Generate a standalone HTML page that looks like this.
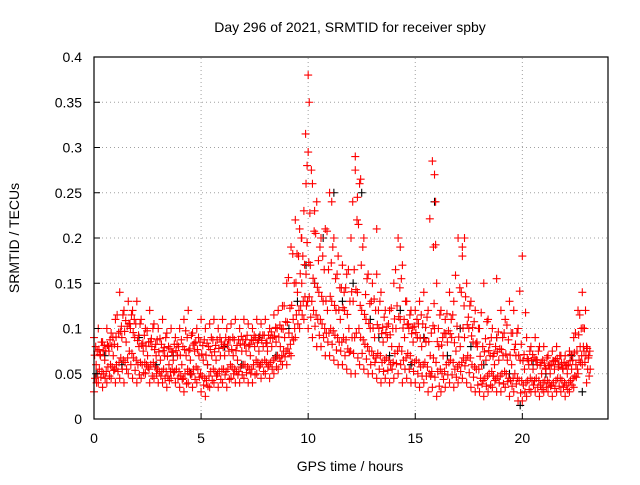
<!DOCTYPE html>
<html><head><meta charset="utf-8"><style>
body{margin:0;background:#fff}
svg text{font-family:"Liberation Sans",sans-serif;font-size:14px;fill:#000}
</style></head><body>
<svg id="chart" width="640" height="480">
<rect width="640" height="480" fill="#fff"/>
<g id="grid"></g><g id="marks"></g><g id="axes"></g>
<text x="350" y="32" text-anchor="middle">Day 296 of 2021, SRMTID for receiver spby</text>
<text x="350" y="471" text-anchor="middle">GPS time / hours</text>
<text transform="translate(19,238) rotate(-90)" text-anchor="middle">SRMTID / TECUs</text>
</svg>
<script>
const hours=[0,0.2,0.4,0.6,0.8,1,1.2,1.4,1.6,1.8,2,2.2,2.4,2.6,2.8,3,3.2,3.4,3.6,3.8,4,4.2,4.4,4.6,4.8,5,5.2,5.4,5.6,5.8,6,6.2,6.4,6.6,6.8,7,7.2,7.4,7.6,7.8,8,8.2,8.4,8.6,8.8,9,9.2,9.4,9.6,9.8,10,10.2,10.4,10.6,10.8,11,11.2,11.4,11.6,11.8,12,12.2,12.4,12.6,12.8,13,13.2,13.4,13.6,13.8,14,14.2,14.4,14.6,14.8,15,15.2,15.4,15.6,15.8,16,16.2,16.4,16.6,16.8,17,17.2,17.4,17.6,17.8,18,18.2,18.4,18.6,18.8,19,19.2,19.4,19.6,19.8,20,20.2,20.4,20.6,20.8,21,21.2,21.4,21.6,21.8,22,22.2,22.4,22.6,22.8,23];
const lowVals=[.03,.04,.035,.04,.045,.04,.045,.04,.05,.045,.04,.045,.05,.04,.045,.04,.04,.035,.045,.04,.035,.03,.04,.035,.04,.03,.025,.035,.04,.035,.04,.035,.045,.04,.04,.045,.04,.04,.05,.045,.05,.045,.05,.055,.06,.06,.07,.09,.1,.11,.1,.09,.08,.08,.07,.07,.065,.06,.06,.055,.05,.05,.06,.055,.05,.05,.045,.04,.045,.04,.045,.05,.04,.045,.04,.04,.035,.04,.03,.035,.025,.03,.035,.04,.035,.04,.045,.04,.035,.03,.03,.025,.03,.035,.03,.03,.035,.025,.03,.02,.02,.025,.03,.03,.025,.03,.03,.025,.03,.03,.025,.03,.035,.05,.06,.04];
const midVals=[.06,.07,.065,.075,.07,.08,.09,.085,.1,.09,.08,.075,.07,.08,.07,.065,.07,.06,.065,.07,.06,.07,.065,.075,.07,.065,.06,.07,.065,.07,.07,.075,.07,.065,.075,.075,.07,.08,.075,.08,.075,.08,.085,.08,.09,.095,.11,.14,.15,.16,.17,.15,.14,.13,.12,.13,.12,.11,.12,.1,.13,.14,.12,.11,.1,.09,.1,.085,.09,.08,.1,.11,.09,.1,.085,.09,.08,.085,.07,.1,.08,.07,.085,.09,.075,.08,.09,.1,.085,.08,.06,.065,.07,.06,.065,.07,.065,.06,.07,.065,.055,.06,.055,.06,.05,.055,.05,.055,.06,.055,.05,.055,.06,.08,.1,.07];
const highVals=[.09,.1,.085,.1,.095,.11,.14,.12,.13,.12,.13,.11,.1,.12,.105,.1,.11,.095,.1,.09,.1,.11,.12,.095,.1,.11,.1,.105,.11,.1,.11,.1,.105,.11,.1,.11,.105,.1,.11,.105,.11,.1,.115,.12,.125,.15,.19,.22,.21,.23,.38,.26,.24,.2,.21,.25,.2,.18,.17,.16,.2,.29,.26,.2,.16,.15,.16,.14,.12,.12,.15,.2,.17,.13,.12,.12,.13,.14,.12,.285,.15,.12,.11,.14,.13,.2,.18,.15,.13,.12,.1,.15,.11,.1,.09,.12,.11,.13,.12,.1,.18,.09,.08,.09,.08,.08,.07,.075,.08,.07,.07,.075,.09,.12,.14,.08];
const extraHours=[10.05,10.0,9.9,9.7,10.3,12.2,12.45,12.3,15.9,15.95,15.85,17.3,17.2,18.8,11.1,14.3,13.2,9.95];
const extraVals=[.35,.295,.26,.2,.23,.275,.265,.245,.27,.24,.19,.2,.19,.155,.24,.19,.21,.28];
const blackHours=[0.1,0.5,1.3,2.1,2.9,3.7,4.5,5.3,6.1,6.9,7.7,8.5,9.1,9.5,9.9,10.3,10.7,11.2,11.6,12.1,12.5,12.9,13.3,13.8,14.3,14.8,15.4,15.9,16.5,17.1,17.6,18.2,18.8,19.4,19.9,20.5,21.1,21.7,22.3,22.8];
const blackVals=[.05,.07,.06,.09,.06,.07,.05,.06,.08,.06,.09,.07,.1,.13,.17,.15,.2,.25,.13,.15,.25,.11,.09,.07,.12,.06,.09,.24,.07,.1,.08,.06,.09,.05,.015,.06,.05,.06,.07,.03];
const yTicks=[0,0.05,0.1,0.15,0.2,0.25,0.3,0.35,0.4];
const yTickLabels=["0","0.05","0.1","0.15","0.2","0.25","0.3","0.35","0.4"];
const xTicks=[0,5,10,15,20];
const xTickLabels=["0","5","10","15","20"];
const X0=94,X1=608,Y0=419,Y1=57;
const xs=h=>X0+h*(X1-X0)/24;
const ys=v=>Y0-v*(Y0-Y1)/0.4;
const NS="http://www.w3.org/2000/svg";
const grid=document.getElementById('grid'),marks=document.getElementById('marks'),axes=document.getElementById('axes');
function mk(tag,attrs,parent){const e=document.createElementNS(NS,tag);for(const k in attrs)e.setAttribute(k,attrs[k]);parent.appendChild(e);return e;}
yTicks.forEach((t,i)=>{
  if(i>0){const g=mk('line',{x1:X0,x2:X1,y1:ys(t),y2:ys(t),stroke:'#a0a0a0','stroke-dasharray':'1,3'},grid);
  
  }
  const tk=mk('line',{x1:X0,x2:X0+6,y1:ys(t),y2:ys(t),stroke:'#000'},axes);
  
  
  const l=mk('text',{x:X0-12,y:ys(t)+5,'text-anchor':'end'},axes);l.textContent=yTickLabels[i];
  
  
});
xTicks.forEach((t,i)=>{
  if(i>0){const g=mk('line',{x1:xs(t),x2:xs(t),y1:Y0,y2:Y1,stroke:'#a0a0a0','stroke-dasharray':'1,3'},grid);
  
  }
  const tk=mk('line',{x1:xs(t),x2:xs(t),y1:Y0,y2:Y0-6,stroke:'#000'},axes);
  
  
  const l=mk('text',{x:xs(t),y:Y0+24,'text-anchor':'middle'},axes);l.textContent=xTickLabels[i];
  
  
});
const frame=mk('rect',{x:X0,y:Y1,width:X1-X0,height:Y0-Y1,fill:'none',stroke:'#000','stroke-width':1.2},axes);


function plus(h,v,color,name){
  const x=xs(h),y=ys(v);
  const p=mk('path',{d:`M${x-4},${y}H${x+4}M${x},${y-4}V${y+4}`,stroke:color,'stroke-width':1.1,fill:'none'},marks);
  
  
}
blackHours.forEach((h,i)=>plus(h,blackVals[i],'#000','black-point'));
hours.forEach((h,i)=>{
  const j=Math.min(i+1,hours.length-1);
  plus(h,lowVals[i],'#ff0000','red-point-low');
  plus(h+0.1,midVals[i],'#ff0000','red-point-mid');
  plus(h+0.05,(lowVals[i]+midVals[i])/2,'#ff0000','red-point-lowmid');
  plus(h+0.15,(midVals[i]+highVals[i])/2,'#ff0000','red-point-midhigh');
  plus(h,highVals[i],'#ff0000','red-point-high');
  plus(h+0.12,(3*lowVals[i]+midVals[j])/4,'#ff0000','red-point-blend-a');
  plus(h+0.03,(midVals[j]+3*midVals[i])/4+0.008,'#ff0000','red-point-blend-b');
  plus(h+0.17,(lowVals[j]+midVals[i])/2,'#ff0000','red-point-blend-c');
  plus(h+0.08,(midVals[i]+3*highVals[j])/4-0.01,'#ff0000','red-point-blend-d');
});
extraHours.forEach((h,i)=>plus(h,extraVals[i],'#ff0000','red-point-spike'));
</script>
</body></html>
